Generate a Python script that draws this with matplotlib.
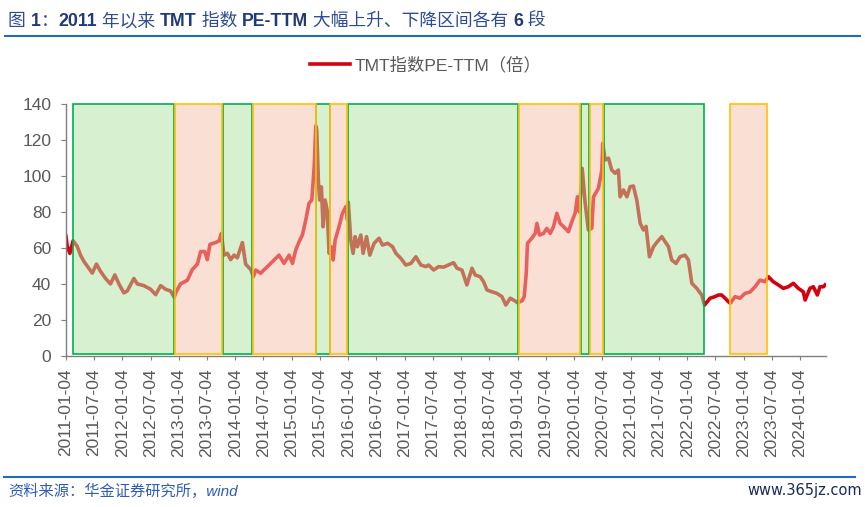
import matplotlib
matplotlib.use("Agg")
import matplotlib.pyplot as plt
import matplotlib.dates as mdates
from matplotlib.patches import Rectangle
from matplotlib.colors import to_rgba
import pandas as pd

# 数据：TMT指数 PE-TTM
dates = [
    "2011-01-04", "2011-01-12", "2011-01-29", "2011-02-19", "2011-03-17", "2011-04-08",
    "2011-04-29", "2011-05-21", "2011-06-23", "2011-07-20", "2011-08-15", "2011-09-17",
    "2011-10-19", "2011-11-16", "2011-12-12", "2012-01-13", "2012-02-04", "2012-03-18",
    "2012-04-09", "2012-05-22", "2012-07-04", "2012-08-06", "2012-09-07", "2012-10-09",
    "2012-11-11", "2012-12-04", "2012-12-13", "2013-01-14", "2013-02-27", "2013-03-31",
    "2013-05-03", "2013-05-24", "2013-06-19", "2013-07-06", "2013-07-23", "2013-08-29",
    "2013-09-20", "2013-10-05", "2013-10-22", "2013-11-13", "2013-12-04", "2013-12-26",
    "2014-01-16", "2014-02-18", "2014-03-11", "2014-04-13", "2014-04-30", "2014-05-15",
    "2014-06-16", "2014-07-19", "2014-08-20", "2014-09-22", "2014-10-13", "2014-11-14",
    "2014-12-17", "2015-01-08", "2015-01-29", "2015-02-20", "2015-03-13", "2015-04-04",
    "2015-04-25", "2015-05-13", "2015-05-28", "2015-06-08", "2015-06-14", "2015-06-25",
    "2015-07-03", "2015-07-14", "2015-07-25", "2015-08-07", "2015-08-20", "2015-09-02",
    "2015-09-15", "2015-09-28", "2015-10-11", "2015-11-05", "2015-11-27", "2015-12-19",
    "2015-12-30", "2016-01-04", "2016-01-20", "2016-02-04", "2016-02-17", "2016-03-03",
    "2016-03-25", "2016-04-09", "2016-05-01", "2016-05-22", "2016-06-19", "2016-07-21",
    "2016-08-12", "2016-09-14", "2016-10-16", "2016-11-07", "2016-12-09", "2017-01-10",
    "2017-02-12", "2017-03-16", "2017-04-17", "2017-05-20", "2017-06-06", "2017-07-09",
    "2017-08-10", "2017-09-11", "2017-10-13", "2017-11-15", "2017-12-07", "2018-01-08",
    "2018-02-09", "2018-03-14", "2018-04-04", "2018-05-06", "2018-05-28", "2018-06-19",
    "2018-07-21", "2018-08-22", "2018-09-24", "2018-10-19", "2018-11-16", "2018-12-08",
    "2019-01-03", "2019-01-31", "2019-02-15", "2019-02-28", "2019-03-08", "2019-04-05",
    "2019-04-27", "2019-05-08", "2019-05-25", "2019-06-20", "2019-07-11", "2019-08-02",
    "2019-08-23", "2019-09-14", "2019-10-05", "2019-11-07", "2019-11-28", "2019-12-20",
    "2020-01-10", "2020-01-25", "2020-02-07", "2020-02-25", "2020-03-15", "2020-04-05",
    "2020-04-27", "2020-05-08", "2020-06-09", "2020-07-01", "2020-07-07", "2020-07-22",
    "2020-08-13", "2020-09-03", "2020-09-25", "2020-10-16", "2020-10-27", "2020-11-18",
    "2020-12-10", "2020-12-31", "2021-01-21", "2021-02-12", "2021-03-06", "2021-03-27",
    "2021-04-13", "2021-05-05", "2021-05-31", "2021-06-25", "2021-07-24", "2021-08-14",
    "2021-09-05", "2021-09-26", "2021-10-24", "2021-11-19", "2021-12-21", "2022-01-12",
    "2022-02-03", "2022-03-07", "2022-04-08", "2022-04-26", "2022-06-01", "2022-07-03",
    "2022-07-25", "2022-08-15", "2022-09-06", "2022-09-27", "2022-10-10", "2022-11-10",
    "2022-12-12", "2023-01-13", "2023-02-15", "2023-03-19", "2023-04-20", "2023-05-23",
    "2023-06-13", "2023-07-15", "2023-08-17", "2023-09-18", "2023-10-20", "2023-11-22",
    "2023-12-24", "2024-01-25", "2024-02-06", "2024-03-08", "2024-03-30", "2024-04-25",
    "2024-05-12", "2024-06-03", "2024-06-14",
]
pe = [
    66.5, 61, 57, 64, 61, 56,
    52.6, 50, 46, 51, 47, 43,
    40, 45, 40, 35, 36, 43,
    40, 39, 37, 34, 39, 37,
    36, 32.5, 35, 40, 42, 48,
    51, 58, 58, 53.5, 62, 63,
    64, 68, 56, 57, 53.5, 56,
    54.5, 63, 51, 48, 44, 47.7,
    45.9, 48.7, 51.4, 54.2, 56, 51.4,
    56, 51.4, 58.9, 63.5, 67.2, 75.6,
    84.9, 86.7, 105, 128, 125.7, 96,
    86.7, 94, 71.8, 86.7, 81, 57,
    60.7, 53.3, 64.4, 71.8, 79.3, 83,
    75.6, 85.5, 64.4, 57, 66.3, 60.7,
    67.2, 57, 66.3, 56, 62.6, 65.4,
    61.6, 62.6, 60.7, 57, 54.2, 50.5,
    51.4, 55.1, 50.5, 49.6, 50.5, 47.7,
    49.6, 49.3, 50.5, 51.8, 48.7, 47.7,
    39.4, 48.7, 44.9, 44, 41.2, 36.6,
    35.6, 34.7, 32.9, 28.2, 32, 31,
    29.5, 30.5, 32.9, 45.9, 62.6, 65.4,
    68.1, 73.7, 67.2, 68.1, 70.9, 68.1,
    71.8, 79.3, 73.7, 71, 69, 74.6,
    79.3, 88.5, 80, 104.3, 85, 70,
    71, 88.5, 93.2, 103.4, 118.3, 109,
    110, 103.4, 101.6, 103.4, 88.5, 92.3,
    88.5, 94.1, 94.5, 86.7, 73.7, 70,
    72, 55.1, 60.7, 63.5, 66.3, 63.5,
    60.7, 53.3, 51.4, 55.1, 56, 53.3,
    40.3, 37.5, 33.8, 28.2, 32, 32.9,
    33.8, 33.8, 32, 30.1, 29.2, 32.9,
    32, 34.7, 35.5, 38.4, 42.1, 41.2,
    44, 41.2, 39.4, 37.5, 38.4, 40.3,
    37.5, 35.6, 31, 37.5, 38.4, 33.8,
    38.4, 38.4, 39.4,
]

# 下降区间（绿框）与上升区间（橙框）
down_start = ["2011-02-20", "2013-10-13", "2015-06-11", "2016-01-02", "2020-02-16", "2020-07-18"]
down_end = ["2012-12-05", "2014-04-22", "2015-09-08", "2019-01-05", "2020-04-12", "2022-04-23"]
up_start = ["2012-12-12", "2014-04-30", "2015-09-10", "2019-01-11", "2020-04-16", "2022-10-08"]
up_end = ["2013-10-08", "2015-06-08", "2015-12-27", "2020-02-10", "2020-07-11", "2023-06-02"]

tick_labels = [f"{y}-{m}-04" for y in range(2011, 2025) for m in ("01", "07")][:-1]

plt.rcParams['font.family'] = ['Liberation Sans', 'Noto Sans CJK SC', 'DejaVu Sans']

fig = plt.figure(figsize=(8.65, 5.07), dpi=100)
ax = fig.add_axes([66 / 865, 1 - 355.7 / 507, (825.7 - 66) / 865, (355.7 - 104.3) / 507])

x = pd.to_datetime(dates)
line, = ax.plot(x, pe, color='#D7000F', lw=2.6, zorder=2, label='TMT指数PE-TTM（倍）')


def draw_boxes(starts, ends, face, edge):
    for s, e in zip(starts, ends):
        x0 = mdates.date2num(pd.Timestamp(s))
        x1 = mdates.date2num(pd.Timestamp(e))
        r = Rectangle((x0, 0.7), x1 - x0, 140 - 0.7, facecolor=to_rgba(face, 0.5),
                      edgecolor=edge, lw=1.2, zorder=3, clip_on=False)
        ax.add_patch(r)


draw_boxes(down_start, down_end, '#B1E3A3', '#00B050')
draw_boxes(up_start, up_end, '#F7C1AD', '#FFC000')

ax.set_xlim(pd.Timestamp("2011-01-04"), pd.Timestamp("2024-06-18"))
ax.set_ylim(0, 140)
ax.set_yticks(range(0, 141, 20))
ax.set_xticks(pd.to_datetime(tick_labels))
ax.set_xticklabels(tick_labels, rotation=90)

for s in ['top', 'right']:
    ax.spines[s].set_visible(False)
for s in ['left', 'bottom']:
    ax.spines[s].set_color('#7F7F7F')
    ax.spines[s].set_linewidth(1)
ax.tick_params(axis='y', length=3.6, width=0.8, color='#7F7F7F', labelcolor='#595959',
               labelsize=12.5, pad=7)
ax.tick_params(axis='x', length=3, width=0.8, color='#7F7F7F', labelcolor='#595959',
               labelsize=12.5, pad=6)

fig.legend(handles=[line], loc='center', bbox_to_anchor=(426 / 865, 1 - 65 / 507),
           frameon=False, fontsize=12.5, handlelength=2.3, handletextpad=0.25,
           labelcolor='#595959')

# 标题：拉丁字符加粗，汉字较细
title_parts = [("图 ", "light"), ("1", "bold"), ("：", "light"), ("2011", "bold"),
               (" 年以来 ", "light"), ("TMT", "bold"), (" 指数 ", "light"),
               ("PE-TTM", "bold"), (" 大幅上升、下降区间各有 ", "light"), ("6", "bold"),
               (" 段", "light")]
t = fig.text(8 / 865, 1 - 30 / 507, title_parts[0][0], fontsize=12.8, color='#2E4C94',
             fontweight=title_parts[0][1], va='bottom', ha='left')
for s, w in title_parts[1:]:
    c = '#1F3A78' if w == 'bold' else '#2E4C94'
    t = fig.add_artist(matplotlib.text.Annotation(s, xy=(1, 0), xycoords=t, va='bottom',
                                                  ha='left', fontsize=12.8, color=c,
                                                  fontweight=w))

fig.add_artist(plt.Line2D([5 / 865, 860 / 865], [1 - 36 / 507, 1 - 36 / 507],
                          color='#1F6EB5', lw=1.5))
fig.add_artist(plt.Line2D([4 / 865, 855 / 865], [1 - 477 / 507, 1 - 477 / 507],
                          color='#1F6EB5', lw=1.5))

fig.text(8 / 865, 1 - 491 / 507, "资料来源：华金证券研究所，wind", fontsize=11,
         style='italic', color='#2E5CB8', va='center', ha='left')
fig.text(862 / 865, 1 - 491 / 507, "www.365jz.com", fontsize=10.5, family='DejaVu Sans',
         color='#1A2A5A', va='center', ha='right')

fig.savefig('out.png', dpi=100)
